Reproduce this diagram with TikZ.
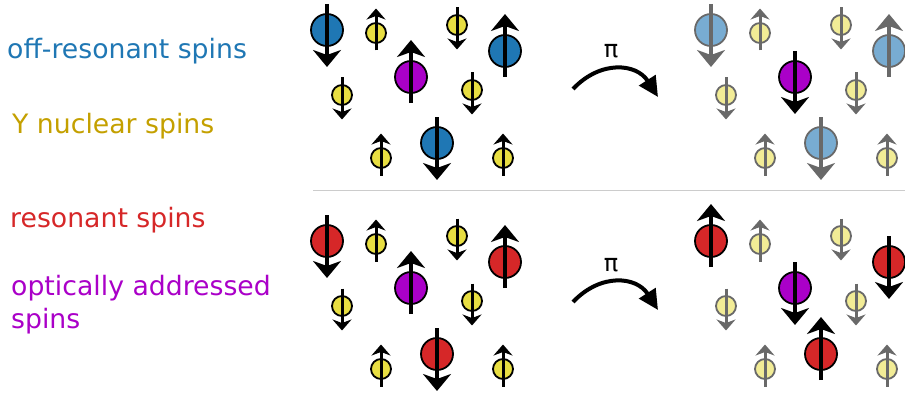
\documentclass[tikz,border=0pt]{standalone}
\usepackage{fontspec}
\setmainfont{DejaVu Sans}
\usetikzlibrary{arrows.meta, calc}

\definecolor{offres}{RGB}{31,119,180}
\definecolor{offpale}{RGB}{120,172,210}
\definecolor{res}{RGB}{214,39,40}
\definecolor{optical}{RGB}{170,0,200}
\definecolor{nucyellow}{RGB}{232,222,66}
\definecolor{nucpale}{RGB}{242,236,150}
\definecolor{nuctext}{RGB}{196,160,0}
\definecolor{fadegray}{RGB}{105,105,105}

\tikzset{
    spin/.style={circle, draw, line width=1.8pt, inner sep=0pt},
    bigspin/.style={spin, minimum size=32pt},
    nucspin/.style={spin, minimum size=20pt},
    bigarrow/.style={line width=4pt, -{Stealth[length=17pt, width=28pt, inset=5pt]}},
    nucarrow/.style={line width=3pt, -{Stealth[length=11pt, width=19pt, inset=3.5pt]}},
    live/.style={color=black},
    faded/.style={color=fadegray},
    pulse/.style={line width=4pt, -{Triangle[length=20pt, width=19pt]}},
    legend/.style={anchor=base west, inner sep=0pt, align=left, font=\fontsize{26.7}{33}\selectfont},
    divider/.style={draw=black!20, line width=1.5pt},
}

\begin{document}
\begin{tikzpicture}[x=1pt, y=-1pt]
    \useasboundingbox (0,0) rectangle (905,396);
    % species legend
    \node[legend, offres] (lab-off) at (7,59) {off-resonant spins};
    \node[legend, nuctext] (lab-nuc) at (12,133) {Y nuclear spins};
    \node[legend, res] (lab-res) at (10,227) {resonant spins};
    \node[legend, optical] (lab-opt) at (11,328) {optically addressed\\spins};
    \draw[divider] (313,190.5) -- (905,190.5);
    % Y nuclear spins, untouched by the pulse
    \foreach \p/\dx/\dy/\col/\tone in {a/0/0/nucyellow/live, b/384/0/nucpale/faded, c/0/211/nucyellow/live, d/384/211/nucpale/faded}
        \foreach \i/\x/\y/\dir in {1/376/33/-1, 2/457/25/1, 3/342/95/1, 4/472/90/1, 5/381/158/-1, 6/503/158/-1} {
            \node[nucspin, \tone, fill=\col] (n\p\i) at (\x+\dx, \y+\dy) {};
            \draw[nucarrow, \tone] ($(n\p\i)+(0,{-17.5*\dir})$) -- ($(n\p\i)+(0,{24.5*\dir})$);
        }
    % electron spins; flip = -1 where the pulse turns them over
    \foreach \p/\dx/\dy/\col/\tone/\flip/\oflip in {a/0/0/offres/live/1/1, b/384/0/offpale/faded/1/-1, c/0/211/res/live/1/1, d/384/211/res/live/-1/-1} {
        \foreach \i/\x/\y/\dir in {1/327/30/1, 2/505/51/-1, 3/437/143/1} {
            \node[bigspin, \tone, fill=\col] (s\p\i) at (\x+\dx, \y+\dy) {};
            \draw[bigarrow, \tone] ($(s\p\i)+(0,{-26*\dir*\flip})$) -- ($(s\p\i)+(0,{37*\dir*\flip})$);
        }
        \node[bigspin, fill=optical] (o\p) at (411+\dx, 77+\dy) {};
        \draw[bigarrow] ($(o\p)+(0,{26*\oflip})$) -- ($(o\p)+(0,{-37*\oflip})$);
    }
    % pi pulses
    \foreach \p/\dy in {top/0, bot/213} {
        \coordinate (from-\p) at (573,89+\dy);
        \coordinate (to-\p) at (658,97+\dy);
        \draw[pulse] (from-\p) to[bend left=52, looseness=1.2] (to-\p);
        \node[anchor=base, inner sep=0pt, font=\fontsize{24}{28}\selectfont] (pi-\p) at (611,58+\dy) {π};
    }
\end{tikzpicture}
\end{document}
